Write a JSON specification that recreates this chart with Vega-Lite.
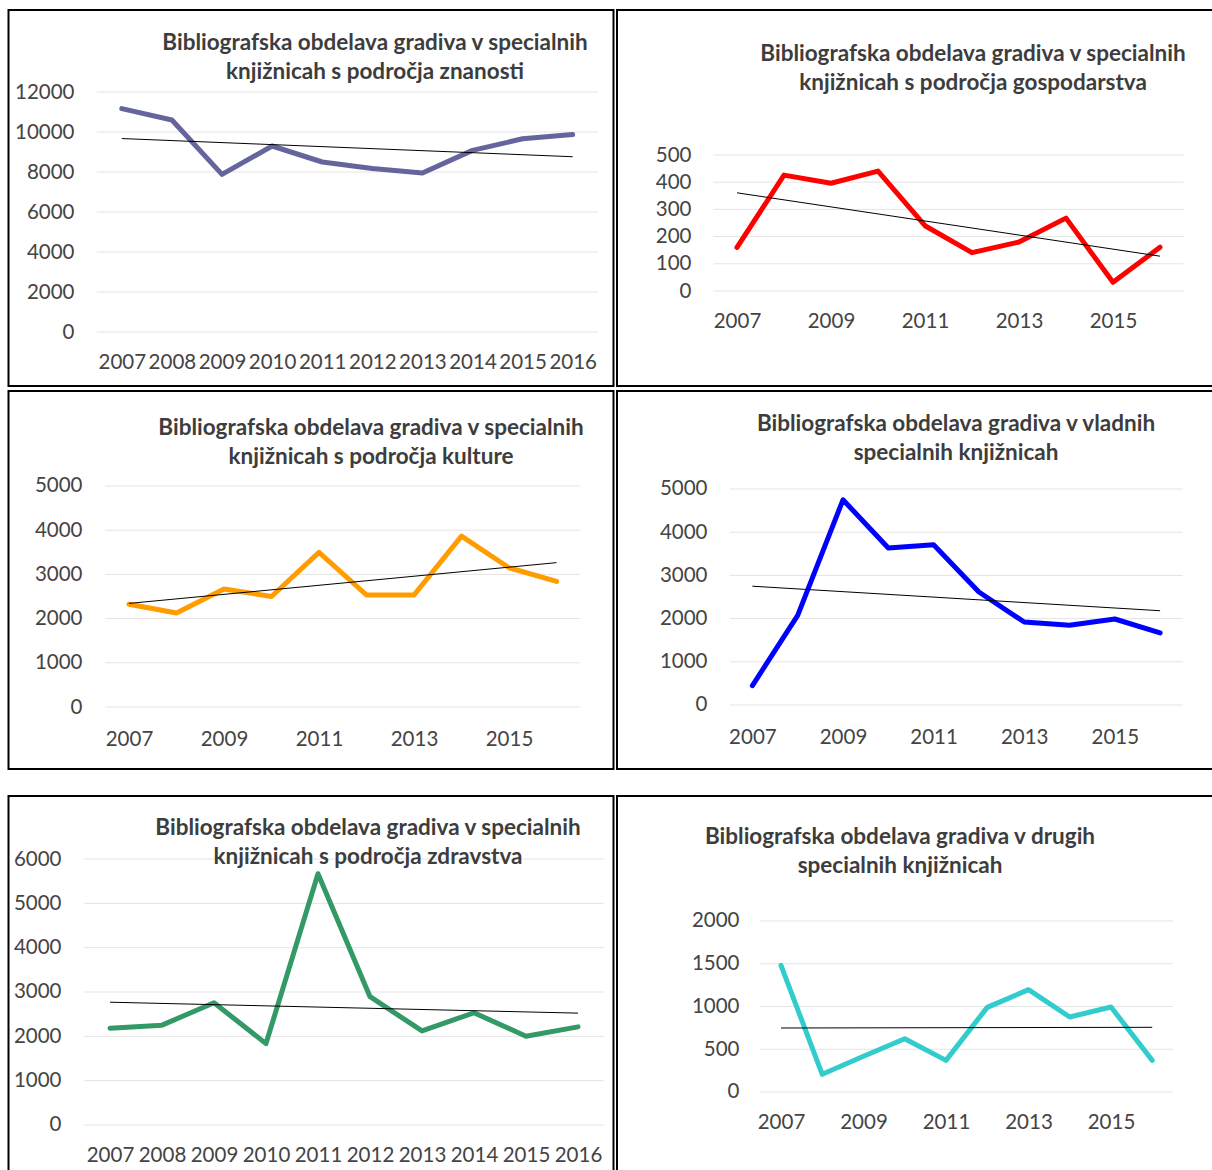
{
  "$schema": "https://vega.github.io/schema/vega-lite/v6.json",
  "autosize": {"type": "pad"},
  "padding": {"left": 7.5, "top": 9, "right": 0, "bottom": 0},
  "background": "white",
  "config": {
    "font": "Lato",
    "view": {"stroke": "black", "strokeWidth": 2},
    "axis": {"labelFont": "Lato", "labelFontSize": 20.5, "labelColor": "#444444", "domain": false, "ticks": false, "tickSize": 0, "labelPadding": 0, "labelBaseline": "middle", "grid": false, "labelFlush": false, "labelOverlap": false},
    "title": {"font": "Lato", "fontWeight": "bold", "fontSize": 22.5, "color": "#3d3d3d", "lineHeight": 29, "anchor": "middle", "frame": "group"},
    "line": {"strokeWidth": 5, "strokeCap": "round", "strokeJoin": "round"},
    "rule": {"color": "#e4e4e4", "strokeWidth": 1}
  },
  "datasets": {
    "p1": [
      {"year": 2007, "value": 11170}, {"year": 2008, "value": 10600}, {"year": 2009, "value": 7880},
      {"year": 2010, "value": 9300}, {"year": 2011, "value": 8500}, {"year": 2012, "value": 8170},
      {"year": 2013, "value": 7950}, {"year": 2014, "value": 9080}, {"year": 2015, "value": 9660},
      {"year": 2016, "value": 9870}
    ],
    "p2": [
      {"year": 2007, "value": 160}, {"year": 2008, "value": 426}, {"year": 2009, "value": 396},
      {"year": 2010, "value": 441}, {"year": 2011, "value": 240}, {"year": 2012, "value": 141},
      {"year": 2013, "value": 180}, {"year": 2014, "value": 268}, {"year": 2015, "value": 32},
      {"year": 2016, "value": 161}
    ],
    "p3": [
      {"year": 2007, "value": 2325}, {"year": 2008, "value": 2128}, {"year": 2009, "value": 2670},
      {"year": 2010, "value": 2500}, {"year": 2011, "value": 3500}, {"year": 2012, "value": 2534},
      {"year": 2013, "value": 2534}, {"year": 2014, "value": 3867}, {"year": 2015, "value": 3150},
      {"year": 2016, "value": 2840}
    ],
    "p4": [
      {"year": 2007, "value": 450}, {"year": 2008, "value": 2076}, {"year": 2009, "value": 4750},
      {"year": 2010, "value": 3634}, {"year": 2011, "value": 3711}, {"year": 2012, "value": 2616},
      {"year": 2013, "value": 1921}, {"year": 2014, "value": 1844}, {"year": 2015, "value": 1991},
      {"year": 2016, "value": 1667}
    ],
    "p5": [
      {"year": 2007, "value": 2184}, {"year": 2008, "value": 2252}, {"year": 2009, "value": 2758},
      {"year": 2010, "value": 1836}, {"year": 2011, "value": 5668}, {"year": 2012, "value": 2894},
      {"year": 2013, "value": 2123}, {"year": 2014, "value": 2532}, {"year": 2015, "value": 2003},
      {"year": 2016, "value": 2214}
    ],
    "p6": [
      {"year": 2007, "value": 1481}, {"year": 2008, "value": 207}, {"year": 2009, "value": 418},
      {"year": 2010, "value": 622}, {"year": 2011, "value": 370}, {"year": 2012, "value": 990},
      {"year": 2013, "value": 1197}, {"year": 2014, "value": 877}, {"year": 2015, "value": 994},
      {"year": 2016, "value": 370}
    ],
    "g12000": [{"value": 0}, {"value": 2000}, {"value": 4000}, {"value": 6000}, {"value": 8000}, {"value": 10000}, {"value": 12000}],
    "g500": [{"value": 0}, {"value": 100}, {"value": 200}, {"value": 300}, {"value": 400}, {"value": 500}],
    "g5000": [{"value": 0}, {"value": 1000}, {"value": 2000}, {"value": 3000}, {"value": 4000}, {"value": 5000}],
    "g6000": [{"value": 0}, {"value": 1000}, {"value": 2000}, {"value": 3000}, {"value": 4000}, {"value": 5000}, {"value": 6000}],
    "g2000": [{"value": 0}, {"value": 500}, {"value": 1000}, {"value": 1500}, {"value": 2000}]
  },
  "vconcat": [
    {
      "vconcat": [
        {
          "hconcat": [
            {
              "width": 605, "height": 376,
              "title": {"text": ["Bibliografska obdelava gradiva v specialnih", "knjižnicah s področja znanosti"], "offset": -73.5, "dx": 64},
              "layer": [
                {
                  "data": {"name": "g12000"},
                  "mark": "rule",
                  "encoding": {
                    "y": {"field": "value", "type": "quantitative", "title": null, "scale": {"domain": [-2700, 16100], "nice": false, "zero": false},
                      "axis": {"values": [0, 2000, 4000, 6000, 8000, 10000, 12000], "format": "d", "offset": -65.5}},
                    "x": {"datum": 2006.5, "type": "quantitative", "title": null, "scale": {"domain": [2004.7385, 2016.8143], "nice": false, "zero": false},
                      "axis": {"values": [2007, 2008, 2009, 2010, 2011, 2012, 2013, 2014, 2015, 2016], "format": "d", "offset": -24}},
                    "x2": {"datum": 2016.5}
                  }
                },
                {
                  "data": {"name": "p1"},
                  "encoding": {
                    "x": {"field": "year", "type": "quantitative", "title": null, "scale": {"domain": [2004.7385, 2016.8143], "nice": false, "zero": false},
                      "axis": {"values": [2007, 2008, 2009, 2010, 2011, 2012, 2013, 2014, 2015, 2016], "format": "d", "offset": -24}},
                    "y": {"field": "value", "type": "quantitative", "title": null, "scale": {"domain": [-2700, 16100], "nice": false, "zero": false},
                      "axis": {"values": [0, 2000, 4000, 6000, 8000, 10000, 12000], "format": "d", "offset": -65.5}}
                  },
                  "layer": [
                    {"mark": {"type": "line", "color": "#65659d"}},
                    {"transform": [{"regression": "value", "on": "year"}], "mark": {"type": "line", "color": "black", "strokeWidth": 1, "strokeCap": "butt"}}
                  ]
                }
              ]
            },
            {
              "width": 605, "height": 376,
              "title": {"text": ["Bibliografska obdelava gradiva v specialnih", "knjižnicah s področja gospodarstva"], "offset": -84.5, "dx": 53.5},
              "layer": [
                {
                  "data": {"name": "g500"},
                  "mark": "rule",
                  "encoding": {
                    "y": {"field": "value", "type": "quantitative", "title": null, "scale": {"domain": [-349.26, 1033.09], "nice": false, "zero": false},
                      "axis": {"values": [0, 100, 200, 300, 400, 500], "format": "d", "offset": -74}},
                    "x": {"datum": 2006.5, "type": "quantitative", "title": null, "scale": {"domain": [2004.4468, 2017.3191], "nice": false, "zero": false},
                      "axis": {"values": [2007, 2009, 2011, 2013, 2015], "format": "d", "offset": -65}},
                    "x2": {"datum": 2016.5}
                  }
                },
                {
                  "data": {"name": "p2"},
                  "encoding": {
                    "x": {"field": "year", "type": "quantitative", "title": null, "scale": {"domain": [2004.4468, 2017.3191], "nice": false, "zero": false},
                      "axis": {"values": [2007, 2009, 2011, 2013, 2015], "format": "d", "offset": -65}},
                    "y": {"field": "value", "type": "quantitative", "title": null, "scale": {"domain": [-349.26, 1033.09], "nice": false, "zero": false},
                      "axis": {"values": [0, 100, 200, 300, 400, 500], "format": "d", "offset": -74}}
                  },
                  "layer": [
                    {"mark": {"type": "line", "color": "#ff0000"}},
                    {"transform": [{"regression": "value", "on": "year"}], "mark": {"type": "line", "color": "black", "strokeWidth": 1, "strokeCap": "butt"}}
                  ]
                }
              ]
            }
          ],
          "spacing": 1.5
        },
        {
          "hconcat": [
            {
              "width": 605, "height": 378,
              "title": {"text": ["Bibliografska obdelava gradiva v specialnih", "knjižnicah s področja kulture"], "offset": -77.5, "dx": 60},
              "layer": [
                {
                  "data": {"name": "g5000"},
                  "mark": "rule",
                  "encoding": {
                    "y": {"field": "value", "type": "quantitative", "title": null, "scale": {"domain": [-1402.7, 7149.3], "nice": false, "zero": false},
                      "axis": {"values": [0, 1000, 2000, 3000, 4000, 5000], "format": "d", "offset": -73.5}},
                    "x": {"datum": 2006.5, "type": "quantitative", "title": null, "scale": {"domain": [2004.4632, 2017.2], "nice": false, "zero": false},
                      "axis": {"values": [2007, 2009, 2011, 2013, 2015], "format": "d", "offset": -30}},
                    "x2": {"datum": 2016.5}
                  }
                },
                {
                  "data": {"name": "p3"},
                  "encoding": {
                    "x": {"field": "year", "type": "quantitative", "title": null, "scale": {"domain": [2004.4632, 2017.2], "nice": false, "zero": false},
                      "axis": {"values": [2007, 2009, 2011, 2013, 2015], "format": "d", "offset": -30}},
                    "y": {"field": "value", "type": "quantitative", "title": null, "scale": {"domain": [-1402.7, 7149.3], "nice": false, "zero": false},
                      "axis": {"values": [0, 1000, 2000, 3000, 4000, 5000], "format": "d", "offset": -73.5}}
                  },
                  "layer": [
                    {"mark": {"type": "line", "color": "#ff9c00"}},
                    {"transform": [{"regression": "value", "on": "year"}], "mark": {"type": "line", "color": "black", "strokeWidth": 1, "strokeCap": "butt"}}
                  ]
                }
              ]
            },
            {
              "width": 605, "height": 378,
              "title": {"text": ["Bibliografska obdelava gradiva v vladnih", "specialnih knjižnicah"], "offset": -73.5, "dx": 36.5},
              "layer": [
                {
                  "data": {"name": "g5000"},
                  "mark": "rule",
                  "encoding": {
                    "y": {"field": "value", "type": "quantitative", "title": null, "scale": {"domain": [-1481.5, 7268.5], "nice": false, "zero": false},
                      "axis": {"values": [0, 1000, 2000, 3000, 4000, 5000], "format": "d", "offset": -90}},
                    "x": {"datum": 2006.5, "type": "quantitative", "title": null, "scale": {"domain": [2004.011, 2017.3664], "nice": false, "zero": false},
                      "axis": {"values": [2007, 2009, 2011, 2013, 2015], "format": "d", "offset": -32}},
                    "x2": {"datum": 2016.5}
                  }
                },
                {
                  "data": {"name": "p4"},
                  "encoding": {
                    "x": {"field": "year", "type": "quantitative", "title": null, "scale": {"domain": [2004.011, 2017.3664], "nice": false, "zero": false},
                      "axis": {"values": [2007, 2009, 2011, 2013, 2015], "format": "d", "offset": -32}},
                    "y": {"field": "value", "type": "quantitative", "title": null, "scale": {"domain": [-1481.5, 7268.5], "nice": false, "zero": false},
                      "axis": {"values": [0, 1000, 2000, 3000, 4000, 5000], "format": "d", "offset": -90}}
                  },
                  "layer": [
                    {"mark": {"type": "line", "color": "#0000ff"}},
                    {"transform": [{"regression": "value", "on": "year"}], "mark": {"type": "line", "color": "black", "strokeWidth": 1, "strokeCap": "butt"}}
                  ]
                }
              ]
            }
          ],
          "spacing": 1.5
        }
      ],
      "spacing": 3
    },
    {
      "hconcat": [
        {
          "width": 605, "height": 376,
          "title": {"text": ["Bibliografska obdelava gradiva v specialnih", "knjižnicah s področja zdravstva"], "offset": -72.5, "dx": 57},
          "layer": [
            {
              "data": {"name": "g6000"},
              "mark": "rule",
              "encoding": {
                "y": {"field": "value", "type": "quantitative", "title": null, "scale": {"domain": [-1060.2, 7421.1], "nice": false, "zero": false},
                  "axis": {"values": [0, 1000, 2000, 3000, 4000, 5000, 6000], "format": "d", "offset": -52.5}},
                "x": {"datum": 2006.5, "type": "quantitative", "title": null, "scale": {"domain": [2005.0481, 2016.6827], "nice": false, "zero": false},
                  "axis": {"values": [2007, 2008, 2009, 2010, 2011, 2012, 2013, 2014, 2015, 2016], "format": "d", "offset": -17}},
                "x2": {"datum": 2016.5}
              }
            },
            {
              "data": {"name": "p5"},
              "encoding": {
                "x": {"field": "year", "type": "quantitative", "title": null, "scale": {"domain": [2005.0481, 2016.6827], "nice": false, "zero": false},
                  "axis": {"values": [2007, 2008, 2009, 2010, 2011, 2012, 2013, 2014, 2015, 2016], "format": "d", "offset": -17}},
                "y": {"field": "value", "type": "quantitative", "title": null, "scale": {"domain": [-1060.2, 7421.1], "nice": false, "zero": false},
                  "axis": {"values": [0, 1000, 2000, 3000, 4000, 5000, 6000], "format": "d", "offset": -52.5}}
              },
              "layer": [
                {"mark": {"type": "line", "color": "#339966"}},
                {"transform": [{"regression": "value", "on": "year"}], "mark": {"type": "line", "color": "black", "strokeWidth": 1, "strokeCap": "butt"}}
              ]
            }
          ]
        },
        {
          "width": 605, "height": 376,
          "title": {"text": ["Bibliografska obdelava gradiva v drugih", "specialnih knjižnicah"], "offset": -81.5, "dx": -19.5},
          "layer": [
            {
              "data": {"name": "g2000"},
              "mark": "rule",
              "encoding": {
                "y": {"field": "value", "type": "quantitative", "title": null, "scale": {"domain": [-935.7, 3461.99], "nice": false, "zero": false},
                  "axis": {"values": [0, 500, 1000, 1500, 2000], "format": "d", "offset": -122}},
                "x": {"datum": 2006.5, "type": "quantitative", "title": null, "scale": {"domain": [2003.0242, 2017.6909], "nice": false, "zero": false},
                  "axis": {"values": [2007, 2009, 2011, 2013, 2015], "format": "d", "offset": -50}},
                "x2": {"datum": 2016.5}
              }
            },
            {
              "data": {"name": "p6"},
              "encoding": {
                "x": {"field": "year", "type": "quantitative", "title": null, "scale": {"domain": [2003.0242, 2017.6909], "nice": false, "zero": false},
                  "axis": {"values": [2007, 2009, 2011, 2013, 2015], "format": "d", "offset": -50}},
                "y": {"field": "value", "type": "quantitative", "title": null, "scale": {"domain": [-935.7, 3461.99], "nice": false, "zero": false},
                  "axis": {"values": [0, 500, 1000, 1500, 2000], "format": "d", "offset": -122}}
              },
              "layer": [
                {"mark": {"type": "line", "color": "#33cccc"}},
                {"transform": [{"regression": "value", "on": "year"}], "mark": {"type": "line", "color": "black", "strokeWidth": 1, "strokeCap": "butt"}}
              ]
            }
          ]
        }
      ],
      "spacing": 1.5
    }
  ],
  "spacing": 25
}
